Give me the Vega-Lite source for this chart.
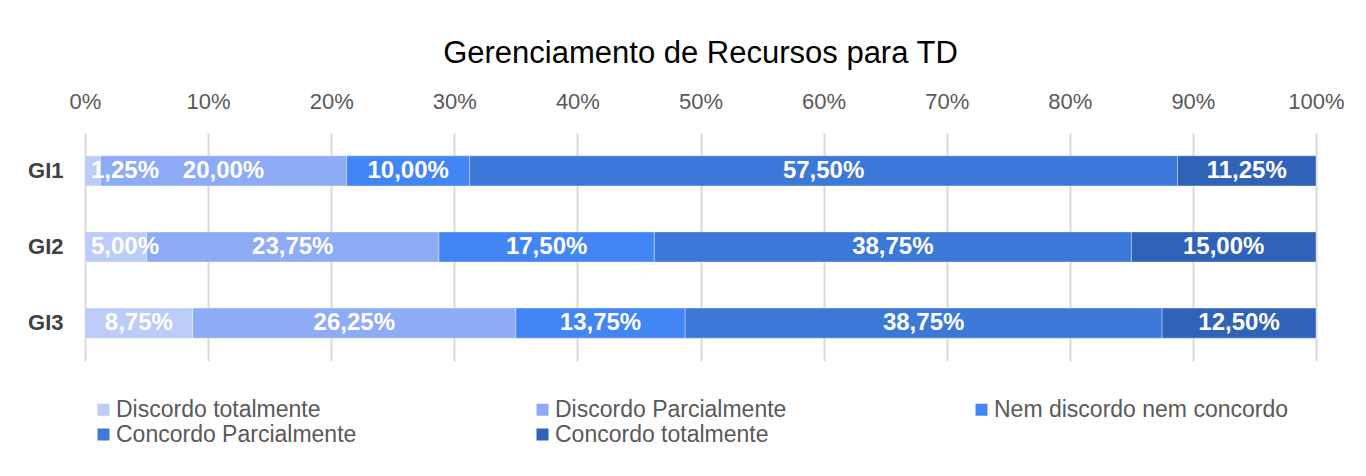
{
  "$schema": "https://vega.github.io/schema/vega-lite/v6.json",
  "width": 1231,
  "height": 228,
  "autosize": "none",
  "padding": {"left": 85, "top": 133, "right": 50, "bottom": 115},
  "background": "white",
  "config": {
    "locale": {"number": {"decimal": ",", "thousands": ".", "grouping": [3], "currency": ["", ""]}},
    "font": "Liberation Sans",
    "view": {"stroke": null}
  },
  "title": {
    "text": "Gerenciamento de Recursos para TD",
    "fontSize": 31,
    "font": "Liberation Sans",
    "fontWeight": "normal",
    "color": "#000000",
    "offset": 20
  },
  "data": {
    "values": [
      {"grupo": "GI1", "resposta": "Discordo totalmente", "k": 1, "valor": 0.0125},
      {"grupo": "GI1", "resposta": "Discordo Parcialmente", "k": 2, "valor": 0.2},
      {"grupo": "GI1", "resposta": "Nem discordo nem concordo", "k": 3, "valor": 0.1},
      {"grupo": "GI1", "resposta": "Concordo Parcialmente", "k": 4, "valor": 0.575},
      {"grupo": "GI1", "resposta": "Concordo totalmente", "k": 5, "valor": 0.1125},
      {"grupo": "GI2", "resposta": "Discordo totalmente", "k": 1, "valor": 0.05},
      {"grupo": "GI2", "resposta": "Discordo Parcialmente", "k": 2, "valor": 0.2375},
      {"grupo": "GI2", "resposta": "Nem discordo nem concordo", "k": 3, "valor": 0.175},
      {"grupo": "GI2", "resposta": "Concordo Parcialmente", "k": 4, "valor": 0.3875},
      {"grupo": "GI2", "resposta": "Concordo totalmente", "k": 5, "valor": 0.15},
      {"grupo": "GI3", "resposta": "Discordo totalmente", "k": 1, "valor": 0.0875},
      {"grupo": "GI3", "resposta": "Discordo Parcialmente", "k": 2, "valor": 0.2625},
      {"grupo": "GI3", "resposta": "Nem discordo nem concordo", "k": 3, "valor": 0.1375},
      {"grupo": "GI3", "resposta": "Concordo Parcialmente", "k": 4, "valor": 0.3875},
      {"grupo": "GI3", "resposta": "Concordo totalmente", "k": 5, "valor": 0.125}
    ]
  },
  "transform": [
    {"stack": "valor", "groupby": ["grupo"], "sort": [{"field": "k", "order": "ascending"}], "as": ["v0", "v1"]},
    {"calculate": "(datum.v0 + datum.v1) / 2", "as": "meio"}
  ],
  "encoding": {
    "y": {
      "field": "grupo",
      "type": "nominal",
      "title": null,
      "scale": {"paddingInner": 0.605, "paddingOuter": 0.3},
      "axis": {
        "domain": false,
        "ticks": false,
        "tickSize": 0,
        "labelPadding": 22,
        "labelFontSize": 22,
        "labelFontWeight": "bold",
        "labelColor": "#404040",
        "labelFont": "Liberation Sans"
      }
    }
  },
  "layer": [
    {
      "mark": {"type": "bar", "stroke": "#ffffff", "strokeOpacity": 0.35, "strokeWidth": 1},
      "encoding": {
        "x": {
          "field": "v0",
          "type": "quantitative",
          "title": null,
          "scale": {"domain": [0, 1], "nice": false},
          "axis": {
            "orient": "top",
            "format": "%",
            "values": [0, 0.1, 0.2, 0.3, 0.4, 0.5, 0.6, 0.7, 0.8, 0.9, 1],
            "domain": false,
            "ticks": false,
            "tickSize": 0,
            "labelFlush": false,
            "labelOverlap": false,
            "labelBound": false,
            "labelPadding": 20,
            "labelFontSize": 22,
            "labelColor": "#595959",
            "labelFont": "Liberation Sans",
            "grid": true,
            "gridColor": "#d9d9d9",
            "gridWidth": 2
          }
        },
        "x2": {"field": "v1"},
        "color": {
          "field": "resposta",
          "type": "nominal",
          "scale": {
            "domain": ["Discordo totalmente", "Discordo Parcialmente", "Nem discordo nem concordo", "Concordo Parcialmente", "Concordo totalmente"],
            "range": ["#bccbf8", "#8eabf6", "#4285f4", "#3c78d8", "#3063b8"]
          },
          "legend": {
            "title": null,
            "orient": "none",
            "legendX": 7,
            "legendY": 265,
            "direction": "horizontal",
            "columns": 3,
            "gridAlign": "all",
            "columnPadding": 120,
            "rowPadding": 1,
            "symbolType": "square",
            "symbolSize": 144,
            "symbolStrokeWidth": 0,
            "labelFontSize": 23,
            "labelColor": "#595959",
            "labelFont": "Liberation Sans",
            "labelOffset": 1,
            "labelLimit": 400
          }
        }
      }
    },
    {
      "transform": [{"filter": "datum.valor >= 0.06"}],
      "mark": {"type": "text", "color": "#ffffff", "fontWeight": "bold", "fontSize": 24, "font": "Liberation Sans", "baseline": "middle"},
      "encoding": {
        "x": {"field": "meio", "type": "quantitative"},
        "text": {"field": "valor", "type": "quantitative", "format": ".2%"}
      }
    },
    {
      "transform": [{"filter": "datum.valor < 0.06"}],
      "mark": {"type": "text", "color": "#ffffff", "fontWeight": "bold", "fontSize": 24, "font": "Liberation Sans", "baseline": "middle", "align": "left", "dx": 6},
      "encoding": {
        "x": {"field": "v0", "type": "quantitative"},
        "text": {"field": "valor", "type": "quantitative", "format": ".2%"}
      }
    }
  ]
}
